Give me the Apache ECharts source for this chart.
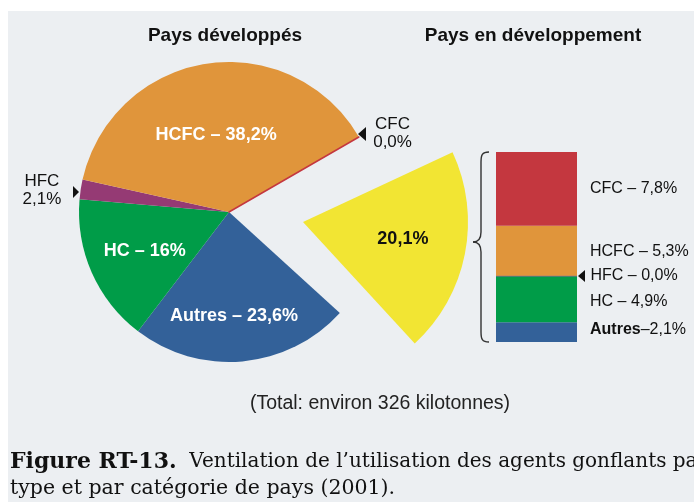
<!DOCTYPE html>
<html><head><meta charset="utf-8">
<script src="https://cdn.jsdelivr.net/npm/echarts@6/dist/echarts.min.js"></script>
<style>html,body{margin:0;padding:0;background:#fff;}#c{width:694px;height:502px;}</style>
</head><body><div id="c"></div>
<script>
// ---- data ----
const categories = ['CFC', 'HCFC', 'HFC', 'HC', 'Autres'];
const developedShares = [0.0, 38.2, 2.1, 16, 23.6];   // % of world total, Pays développés
const developingShares = [7.8, 5.3, 0.0, 4.9, 2.1];   // % of world total, Pays en développement
const developingTotal = 20.1;
const panelTitles = ['Pays développés', 'Pays en développement'];
const totalNote = '(Total: environ 326 kilotonnes)';
const captionBold = 'Figure RT-13.';
const captionLines = ['Ventilation de l’utilisation des agents gonflants par', 'type et par catégorie de pays (2001).'];

// ---- style ----
const colorOf = {CFC:'#C4373F', HCFC:'#E0953B', HFC:'#953A74', HC:'#009C48', Autres:'#336199', dev:'#F2E533'};
const SANS = '"Liberation Sans", Arial, sans-serif';
const SERIF = '"DejaVu Serif", serif';
const fmt = v => (v !== 0 && v % 1 === 0) ? String(v) : v.toFixed(1).replace('.', ',');
const val = (arr, n) => arr[categories.indexOf(n)];

const pieLabel = {
  Autres: {offset:[-2, 26], inner:true},
  HC:     {offset:[-13, 7], inner:true},
  HCFC:   {offset:[-1, 0], inner:true},
  HFC:    {offset:[-110, -10], inner:false},
  CFC:    {offset:[96, -40], inner:false}
};
const pieOrder = ['Autres', 'HC', 'HFC', 'HCFC', 'CFC'];
const developedSum = developedShares.reduce((a, b) => a + b, 0);

const pieData = [{name:'dev', value:developingTotal, itemStyle:{color:'rgba(0,0,0,0)'}, label:{show:false}}]
  .concat(pieOrder.map(n => {
    const v = val(developedShares, n), s = pieLabel[n];
    const item = {name:n, value:v, itemStyle:{color:colorOf[n]}};
    if (n === 'CFC') item.itemStyle = {color:colorOf.CFC, borderColor:colorOf.CFC, borderWidth:1.5};
    item.label = s.inner
      ? {show:true, position:'inside', offset:s.offset, formatter:`${n} – ${fmt(v)}%`, color:'#fff', fontWeight:'bold', fontSize:18, fontFamily:SANS}
      : {show:true, position:'inside', offset:s.offset, formatter:`${n}\n${fmt(v)}%`, color:'#111', fontWeight:'normal', fontSize:17, lineHeight:18, fontFamily:SANS};
    return item;
  }));

const barOrder = ['Autres', 'HC', 'HFC', 'HCFC', 'CFC'];
const barOffsets = {Autres:[0,-2], HC:[0,3], HFC:[0,0], HCFC:[0,1], CFC:[0,0]};
const barSeries = barOrder.map(n => {
  const v = val(developingShares, n);
  return {
    type:'bar', name:n, stack:'dev', data:[v], barWidth:'100%', silent:true,
    itemStyle: n === 'HFC' ? {color:colorOf.HFC, borderColor:'#8a6a8e', borderWidth:1} : {color:colorOf[n]},
    label:{show:true, position:'right', distance:13, offset:barOffsets[n], color:'#111', fontSize:16, fontFamily:SANS,
      formatter: n === 'Autres' ? `{b|${n}}–${fmt(v)}%` : `${n} – ${fmt(v)}%`,
      rich:{b:{fontWeight:'bold', fontSize:16, fontFamily:SANS, color:'#111'}}}
  };
});

const braceStyle = {fill:'none', stroke:'#333', lineWidth:1.4};
const chart = echarts.init(document.getElementById('c'), null, {renderer:'canvas'});
chart.setOption({
  animation:false,
  backgroundColor:'#ffffff',
  grid:{left:496, top:152, width:81, height:190, containLabel:false},
  xAxis:{type:'category', data:[panelTitles[1]], show:false},
  yAxis:{type:'value', min:0, max:developingTotal, show:false},
  graphic:[
    {type:'rect', z:-10, shape:{x:8, y:11, width:700, height:500}, style:{fill:'#ECEFF2'}},
    {type:'text', x:225, y:36, style:{text:panelTitles[0], align:'center', verticalAlign:'middle', font:`bold 19px ${SANS}`, fill:'#111'}},
    {type:'text', x:533, y:36, style:{text:panelTitles[1], align:'center', verticalAlign:'middle', font:`bold 19px ${SANS}`, fill:'#111'}},
    {type:'text', x:380, y:404, style:{text:totalNote, align:'center', verticalAlign:'middle', font:`19.5px ${SANS}`, fill:'#222'}},
    {type:'text', x:10, y:462, style:{text:`{b|${captionBold}}  ${captionLines[0]}`, verticalAlign:'middle', font:`20px ${SERIF}`, fill:'#111',
      rich:{b:{fontWeight:'bold', fontFamily:SERIF, fontSize:22, fill:'#111'}}}},
    {type:'text', x:10, y:489, style:{text:captionLines[1], verticalAlign:'middle', font:`20.5px ${SERIF}`, fill:'#111'}},
    {type:'bezierCurve', shape:{x1:489, y1:152, cpx1:482, cpy1:152, cpx2:481, cpy2:155, x2:481, y2:162}, style:braceStyle},
    {type:'line', shape:{x1:481, y1:162, x2:481, y2:232}, style:braceStyle},
    {type:'bezierCurve', shape:{x1:481, y1:232, cpx1:481, cpy1:239, cpx2:478, cpy2:242, x2:473, y2:242}, style:braceStyle},
    {type:'bezierCurve', shape:{x1:473, y1:242, cpx1:478, cpy1:242, cpx2:481, cpy2:245, x2:481, y2:252}, style:braceStyle},
    {type:'line', shape:{x1:481, y1:252, x2:481, y2:332}, style:braceStyle},
    {type:'bezierCurve', shape:{x1:481, y1:332, cpx1:481, cpy1:339, cpx2:482, cpy2:342, x2:489, y2:342}, style:braceStyle},
    {type:'polygon', shape:{points:[[79,192],[73,186],[73,198]]}, style:{fill:'#111'}},
    {type:'polygon', shape:{points:[[358,134],[366,127],[366,141]]}, style:{fill:'#111'}},
    {type:'polygon', shape:{points:[[578,276],[585,270],[585,282]]}, style:{fill:'#111'}}
  ],
  series:[
    {type:'pie', center:[229,212], radius:150, startAngle:30, clockwise:true, silent:true,
      avoidLabelOverlap:false, labelLine:{show:false}, itemStyle:{borderWidth:0}, emphasis:{disabled:true},
      data:pieData},
    {type:'pie', center:[303,222], radius:165, startAngle:25, clockwise:true, silent:true,
      avoidLabelOverlap:false, labelLine:{show:false}, itemStyle:{borderWidth:0}, emphasis:{disabled:true},
      data:[
        {name:'dev', value:developingTotal, itemStyle:{color:colorOf.dev},
          label:{show:true, position:'inside', offset:[16,0], formatter:`${fmt(developingTotal)}%`, color:'#111', fontWeight:'bold', fontSize:18, fontFamily:SANS}},
        {name:'rest', value:developedSum, itemStyle:{color:'rgba(0,0,0,0)'}, label:{show:false}}
      ]},
    ...barSeries
  ]
});
</script></body></html>
